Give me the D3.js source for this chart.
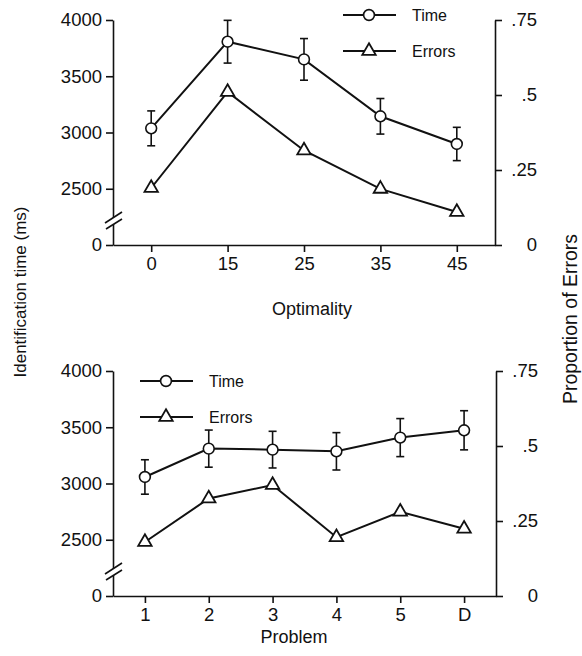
<!DOCTYPE html>
<html>
<head>
<meta charset="utf-8">
<script src="https://cdn.jsdelivr.net/npm/d3@7"></script>
<style>
  body { margin: 0; background: #fff; }
  svg { display: block; font-family: "Liberation Sans", Arial, Helvetica, sans-serif; }
</style>
</head>
<body>
<div id="wrapper"></div>
<script>
// data
const optimality = ["0", "15", "25", "35", "45"];
const optTime = [3037, 3807, 3650, 3144, 2898];
const optTimeErr = [155, 190, 185, 158, 148];
const optErrors = [0.19, 0.51, 0.315, 0.187, 0.11];

const problems = ["1", "2", "3", "4", "5", "D"];
const probTime = [3058, 3310, 3301, 3286, 3408, 3473];
const probTimeErr = [153, 165, 163, 166, 169, 174];
const probErrors = [0.18, 0.325, 0.37, 0.196, 0.281, 0.224];

// the time axis is broken: the "0" sits one step below 2500
const timeTicks = [2000, 2500, 3000, 3500, 4000];
const timeTickLabels = ["0", "2500", "3000", "3500", "4000"];
const errorTicks = [0, 0.25, 0.5, 0.75];
const errorTickLabels = ["0", ".25", ".5", ".75"];

const width = 582;
const height = 656;

const svg = d3.select("#wrapper")
  .append("svg")
  .attr("width", width)
  .attr("height", height);

const drawPanel = (cfg) => {
  const xScale = d3.scalePoint()
    .domain(cfg.categories)
    .range([cfg.left, cfg.right])
    .padding(0.5);

  const yTime = d3.scaleLinear()
    .domain([2000, 4000])
    .range([cfg.bottom, cfg.top]);

  const yErr = d3.scaleLinear()
    .domain([0, 0.75])
    .range([cfg.bottom, cfg.top]);

  const g = svg.append("g");

  // axes
  const xAxis = g.append("g")
    .attr("transform", `translate(0,${cfg.bottom})`)
    .call(d3.axisBottom(xScale).tickSize(7).tickSizeOuter(0).tickPadding(5));

  const yAxis = g.append("g")
    .attr("transform", `translate(${cfg.left},0)`)
    .call(d3.axisLeft(yTime)
      .tickValues(timeTicks)
      .tickFormat((d, i) => timeTickLabels[i])
      .tickSize(7).tickSizeOuter(0).tickPadding(4));

  const yAxisRight = g.append("g")
    .attr("transform", `translate(${cfg.right},0)`)
    .call(d3.axisRight(yErr)
      .tickValues(errorTicks)
      .tickFormat((d, i) => errorTickLabels[i])
      .tickSize(7).tickSizeOuter(0));
  yAxisRight.selectAll(".tick text")
    .attr("x", 42)
    .attr("text-anchor", "end");

  g.selectAll(".domain, .tick line")
    .attr("stroke", "#111")
    .attr("stroke-width", 1.6);
  g.selectAll(".tick text")
    .attr("fill", "#111")
    .attr("font-size", 18.5)
    .attr("font-family", "Liberation Sans, Arial, sans-serif");

  // axis break marks
  const bx = cfg.left;
  const by = cfg.bottom;
  g.append("polygon")
    .attr("points", [[bx - 8, by - 22], [bx + 9, by - 33], [bx + 9, by - 26], [bx - 7, by - 16]].join(" "))
    .attr("fill", "#fff");
  g.append("line")
    .attr("x1", bx - 8).attr("y1", by - 22)
    .attr("x2", bx + 9).attr("y2", by - 33)
    .attr("stroke", "#111").attr("stroke-width", 1.6);
  g.append("line")
    .attr("x1", bx - 7).attr("y1", by - 16)
    .attr("x2", bx + 9).attr("y2", by - 26)
    .attr("stroke", "#111").attr("stroke-width", 1.6);

  const timeData = cfg.categories.map((c, i) => ({ c, v: cfg.time[i], e: cfg.timeErr[i] }));
  const errData = cfg.categories.map((c, i) => ({ c, v: cfg.errors[i] }));

  // lines
  const lineTime = d3.line()
    .x((d) => xScale(d.c))
    .y((d) => yTime(d.v));
  const lineErr = d3.line()
    .x((d) => xScale(d.c))
    .y((d) => yErr(d.v));

  g.append("path")
    .attr("d", lineErr(errData))
    .attr("fill", "none")
    .attr("stroke", "#111")
    .attr("stroke-width", 2);

  g.append("path")
    .attr("d", lineTime(timeData))
    .attr("fill", "none")
    .attr("stroke", "#111")
    .attr("stroke-width", 2);

  // error bars
  const bars = g.append("g")
    .selectAll("g")
    .data(timeData)
    .join("g")
    .attr("stroke", "#111")
    .attr("stroke-width", 1.6);
  bars.append("line")
    .attr("x1", (d) => xScale(d.c)).attr("x2", (d) => xScale(d.c))
    .attr("y1", (d) => yTime(d.v + d.e)).attr("y2", (d) => yTime(d.v - d.e));
  bars.append("line")
    .attr("x1", (d) => xScale(d.c) - 4).attr("x2", (d) => xScale(d.c) + 4)
    .attr("y1", (d) => yTime(d.v + d.e)).attr("y2", (d) => yTime(d.v + d.e));
  bars.append("line")
    .attr("x1", (d) => xScale(d.c) - 4).attr("x2", (d) => xScale(d.c) + 4)
    .attr("y1", (d) => yTime(d.v - d.e)).attr("y2", (d) => yTime(d.v - d.e));

  // markers
  const triangle = d3.symbol().type(d3.symbolTriangle).size(78);

  g.append("g")
    .selectAll("path")
    .data(errData)
    .join("path")
    .attr("d", triangle)
    .attr("transform", (d) => `translate(${xScale(d.c)},${yErr(d.v)})`)
    .attr("fill", "#fff")
    .attr("stroke", "#111")
    .attr("stroke-width", 1.8);

  g.append("g")
    .selectAll("circle")
    .data(timeData)
    .join("circle")
    .attr("cx", (d) => xScale(d.c))
    .attr("cy", (d) => yTime(d.v))
    .attr("r", 5.4)
    .attr("fill", "#fff")
    .attr("stroke", "#111")
    .attr("stroke-width", 1.6);

  // legend
  const lx = cfg.legendX;
  const legend = [
    { name: "Time", y: cfg.legendY, shape: "circle" },
    { name: "Errors", y: cfg.legendY + 36, shape: "triangle" }
  ];
  legend.forEach((item) => {
    g.append("line")
      .attr("x1", lx).attr("x2", lx + 53)
      .attr("y1", item.y).attr("y2", item.y)
      .attr("stroke", "#111").attr("stroke-width", 1.8);
    if (item.shape === "circle") {
      g.append("circle")
        .attr("cx", lx + 26).attr("cy", item.y).attr("r", 5.4)
        .attr("fill", "#fff").attr("stroke", "#111").attr("stroke-width", 1.6);
    } else {
      g.append("path")
        .attr("d", triangle())
        .attr("transform", `translate(${lx + 26},${item.y})`)
        .attr("fill", "#fff").attr("stroke", "#111").attr("stroke-width", 1.8);
    }
    g.append("text")
      .attr("x", lx + 69)
      .attr("y", item.y)
      .attr("dy", "0.35em")
      .attr("font-size", 16)
      .attr("fill", "#111")
      .text(item.name);
  });

  // x title
  g.append("text")
    .attr("x", cfg.titleX)
    .attr("y", cfg.titleY)
    .attr("text-anchor", "middle")
    .attr("font-size", 18)
    .attr("fill", "#111")
    .text(cfg.title);
};

drawPanel({
  categories: optimality,
  time: optTime,
  timeErr: optTimeErr,
  errors: optErrors,
  left: 113, right: 495, top: 20, bottom: 245,
  legendX: 343, legendY: 15,
  title: "Optimality", titleX: 312, titleY: 315
});

drawPanel({
  categories: problems,
  time: probTime,
  timeErr: probTimeErr,
  errors: probErrors,
  left: 113, right: 496, top: 371, bottom: 596,
  legendX: 140, legendY: 381,
  title: "Problem", titleX: 294, titleY: 643
});

// shared vertical titles
svg.append("text")
  .attr("transform", "translate(26,292) rotate(-90)")
  .attr("text-anchor", "middle")
  .attr("font-size", 17)
  .attr("fill", "#111")
  .text("Identification time (ms)");

svg.append("text")
  .attr("transform", "translate(577,319) rotate(-90)")
  .attr("text-anchor", "middle")
  .attr("font-size", 19.5)
  .attr("fill", "#111")
  .text("Proportion of Errors");
</script>
</body>
</html>
